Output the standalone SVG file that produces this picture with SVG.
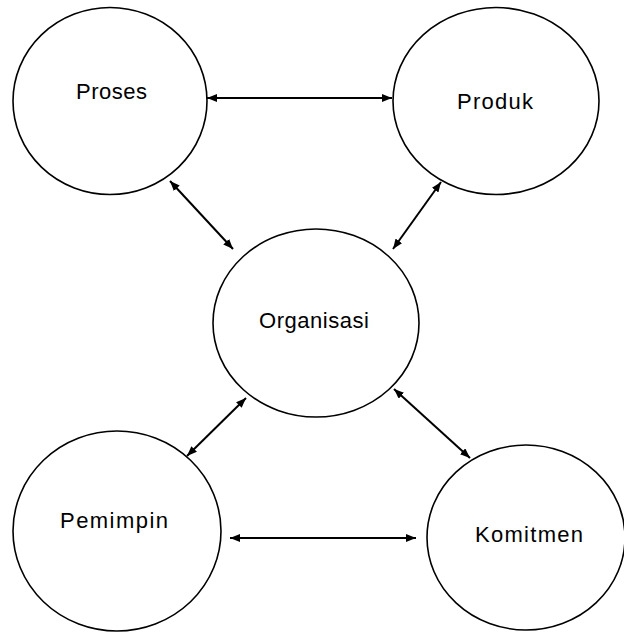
<svg xmlns="http://www.w3.org/2000/svg" width="624" height="632" viewBox="0 0 624 632">
<style>
.node ellipse{fill:#fff;stroke:#000;stroke-width:1.6}
.node text{font-family:"Liberation Sans",Arial,sans-serif;font-size:22px;fill:#000}
.conn line{stroke:#000;stroke-width:2;marker-start:url(#ah);marker-end:url(#ah)}
</style>
<defs>
<marker id="ah" viewBox="0 0 10 8" refX="10" refY="4" markerWidth="10" markerHeight="8" markerUnits="userSpaceOnUse" orient="auto-start-reverse">
<path d="M0,0 L10,4 L0,8 Z" fill="#000"/>
</marker>
</defs>
<rect width="624" height="632" fill="#fff"/>
<g id="proses" class="node">
<ellipse cx="110" cy="101" rx="97" ry="93.5"/>
<text x="76" y="99" textLength="71" lengthAdjust="spacing">Proses</text>
</g>
<g id="produk" class="node">
<ellipse cx="496" cy="101" rx="103" ry="93.5"/>
<text x="457" y="109" textLength="76" lengthAdjust="spacing">Produk</text>
</g>
<g id="organisasi" class="node">
<ellipse cx="316" cy="323" rx="103" ry="94"/>
<text x="259" y="328" textLength="110" lengthAdjust="spacing">Organisasi</text>
</g>
<g id="pemimpin" class="node">
<ellipse cx="117" cy="531" rx="104" ry="100"/>
<text x="60" y="528" textLength="108" lengthAdjust="spacing">Pemimpin</text>
</g>
<g id="komitmen" class="node">
<ellipse cx="526" cy="537.5" rx="99" ry="92.5"/>
<text x="475" y="542" textLength="108" lengthAdjust="spacing">Komitmen</text>
</g>
<g id="connectors" class="conn">
<line x1="207" y1="98" x2="392" y2="98"/>
<line x1="170" y1="181" x2="233" y2="249"/>
<line x1="441" y1="182" x2="393" y2="249"/>
<line x1="246" y1="398" x2="187" y2="456"/>
<line x1="394" y1="389" x2="470" y2="458"/>
<line x1="230" y1="538" x2="416" y2="538"/>
</g>
</svg>
